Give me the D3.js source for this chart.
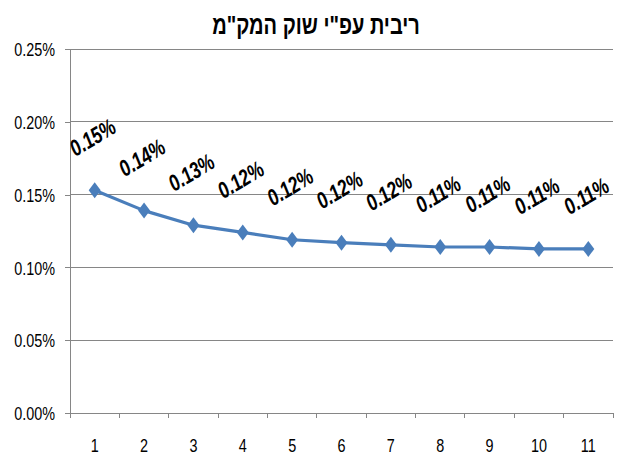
<!DOCTYPE html>
<html><head><meta charset="utf-8">
<script src="https://cdn.jsdelivr.net/npm/d3@7"></script>
<style>
body{margin:0;background:#fff;}
</style></head>
<body>
<svg id="c" width="621" height="459"></svg>
<script>
const title = 'ריבית עפ"י שוק המק"מ';
const categories = ["1","2","3","4","5","6","7","8","9","10","11"];
const values = [0.153, 0.139, 0.129, 0.124, 0.119, 0.117, 0.1155, 0.114, 0.114, 0.1127, 0.1127];
const valueLabels = ["0.15%","0.14%","0.13%","0.12%","0.12%","0.12%","0.12%","0.11%","0.11%","0.11%","0.11%"];
const yTicks = [0, 0.05, 0.10, 0.15, 0.20, 0.25];

const FONT = '"Liberation Sans",Arial,sans-serif';
const SX = 0.8; // horizontal squeeze to mimic a narrow font
const svg = d3.select("#c");
const m = {l:70, r:8, t:49, b:46};
const W = 621, H = 459;
const x = d3.scaleBand().domain(categories).range([m.l, W - m.r]);
const y = d3.scaleLinear().domain([0, 0.25]).range([H - m.b, m.t]);

svg.append("text").attr("transform", `translate(316,34) scale(0.77,1)`).attr("text-anchor","middle")
  .attr("font-size", 26).attr("font-weight","bold").attr("fill","#000")
  .attr("font-family", FONT)
  .attr("direction","rtl").attr("unicode-bidi","embed").text(title);

// gridlines
svg.append("g").selectAll("line").data(yTicks.filter(d=>d>0)).join("line")
  .attr("x1", m.l).attr("x2", W - m.r).attr("y1", d=>y(d)).attr("y2", d=>y(d))
  .attr("stroke","#868686").attr("stroke-width",1).attr("shape-rendering","crispEdges");

// y axis
const ya = svg.append("g").attr("transform",`translate(${m.l},0)`)
  .call(d3.axisLeft(y).tickValues(yTicks).tickFormat(d=>d.toFixed(2)+"%").tickSize(5));
ya.selectAll(".tick text").attr("x", null).attr("dy", null)
  .attr("dominant-baseline","central")
  .attr("transform", `translate(-15,0) scale(${SX},1)`)
  .attr("font-size",18).attr("fill","#000").attr("font-family",FONT);
ya.selectAll("line,path").attr("stroke","#868686").attr("shape-rendering","crispEdges");
ya.select(".domain").attr("d", `M0,${y(0.25)}V${y(0)}`);

// x axis
const xa = svg.append("g").attr("transform",`translate(0,${y(0)})`)
  .call(d3.axisBottom(x).tickSize(0));
xa.selectAll(".tick text").attr("y", null).attr("dy", null)
  .attr("transform", `translate(0,39) scale(${SX},1)`)
  .attr("font-size",18).attr("fill","#000").attr("font-family",FONT);
xa.select(".domain").attr("stroke","#868686").attr("d", `M${m.l},0H${W-m.r}`).attr("shape-rendering","crispEdges");
const bounds = categories.map(c=>x(c)).concat([W - m.r]);
xa.append("g").selectAll("line").data(bounds).join("line")
  .attr("x1",d=>d).attr("x2",d=>d).attr("y1",0).attr("y2",5)
  .attr("stroke","#868686").attr("shape-rendering","crispEdges");

const cx = (d,i)=>x(categories[i]) + x.bandwidth()/2;
const line = d3.line().x((d,i)=>cx(d,i)).y(d=>y(d));
svg.append("path").datum(values).attr("d", line).attr("fill","none")
  .attr("stroke","#4a7ebb").attr("stroke-width",3.2).attr("stroke-linejoin","round");

svg.append("g").selectAll("path").data(values).join("path")
  .attr("transform",(d,i)=>`translate(${cx(d,i)},${y(d)})`)
  .attr("d","M0,-8L6,0L0,8L-6,0Z").attr("fill","#4a7ebb");

svg.append("g").selectAll("text").data(values).join("text")
  .attr("transform",(d,i)=>`translate(${cx(d,i)+2},${y(d)-46}) rotate(-31) scale(0.76,1)`)
  .attr("text-anchor","middle").attr("font-size",23).attr("font-weight","bold")
  .attr("font-style","italic").attr("fill","#000").attr("font-family",FONT)
  .text((d,i)=>valueLabels[i]);
</script>
</body></html>
